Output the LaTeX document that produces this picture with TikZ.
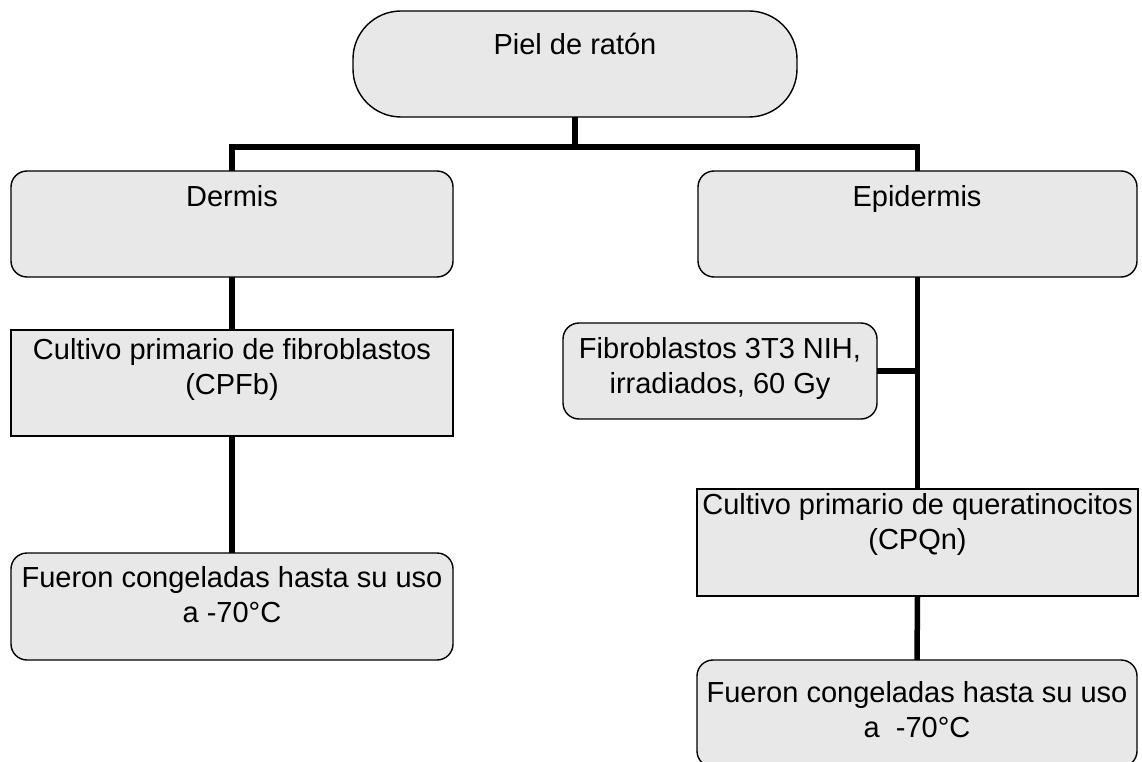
\documentclass[tikz,border=0pt]{standalone}
\usepackage{fontspec}
\setmainfont{Liberation Sans}
\begin{document}
\begin{tikzpicture}[x=1pt,y=-1pt,
  box/.style={draw=black,line width=1.4pt,fill=boxgray,inner sep=0pt,outer sep=0pt},
  rbox/.style={box,rounded corners=16pt},
  sbox/.style={box},
  lbl/.style={inner sep=0pt,outer sep=0pt,align=center,anchor=base,text=black,
    font=\fontsize{29}{35}\selectfont},
  conn/.style={line width=5.5pt,draw=black}]
\definecolor{boxgray}{HTML}{E8E8E8}
\useasboundingbox (0,0) rectangle (1142,762);
\clip (0,0) rectangle (1142,762);
% boxes
\node[box,rounded corners=48pt,minimum width=444pt,minimum height=106pt] (piel) at (575,64) {};
\node[rbox,minimum width=442pt,minimum height=106pt] (dermis) at (232,224) {};
\node[rbox,minimum width=439pt,minimum height=106pt] (epi) at (917.5,224) {};
\node[sbox,minimum width=442pt,minimum height=106pt] (cpf) at (232,383) {};
\node[rbox,minimum width=314pt,minimum height=96pt] (fib) at (720,371) {};
\node[sbox,minimum width=441pt,minimum height=107pt] (cpq) at (917.5,542.5) {};
\node[rbox,minimum width=442pt,minimum height=107pt] (fl) at (232,606.5) {};
\node[rbox,minimum width=440pt,minimum height=107pt] (fr) at (917,713.5) {};
% connectors
\coordinate (bar) at (575,147);
\draw[conn] (piel.south) -- (bar);
\draw[conn] (dermis.north) -- (dermis.north |- bar) -- (epi.north |- bar) -- (epi.north);
\draw[conn] (dermis.south) -- (cpf.north);
\draw[conn] (cpf.south) -- (fl.north);
\draw[conn] (epi.south) -- (cpq.north);
\draw[conn] (fib.east) -- (fib.east -| epi.south);
\draw[conn] (cpq.south) -- (fr.north);
% labels (base anchor = baseline of the last line)
\node[lbl] (tpiel) at (575,55) {Piel de ratón};
\node[lbl] (tdermis) at (232,207) {Dermis};
\node[lbl] (tepi) at (917,207) {Epidermis};
\node[lbl] (tcpf) at (232,394) {Cultivo primario de fibroblastos\\(CPFb)};
\node[lbl] (tfib) at (720,393) {Fibroblastos 3T3 NIH,\\irradiados, 60 Gy};
\node[lbl] (tcpq) at (917.5,549) {Cultivo primario de queratinocitos\\(CPQn)};
\node[lbl] (tfl) at (232,622) {Fueron congeladas hasta su uso\\a -70°C};
\node[lbl] (tfr) at (917,737) {Fueron congeladas hasta su uso\\a\ \ -70°C};
\end{tikzpicture}
\end{document}
